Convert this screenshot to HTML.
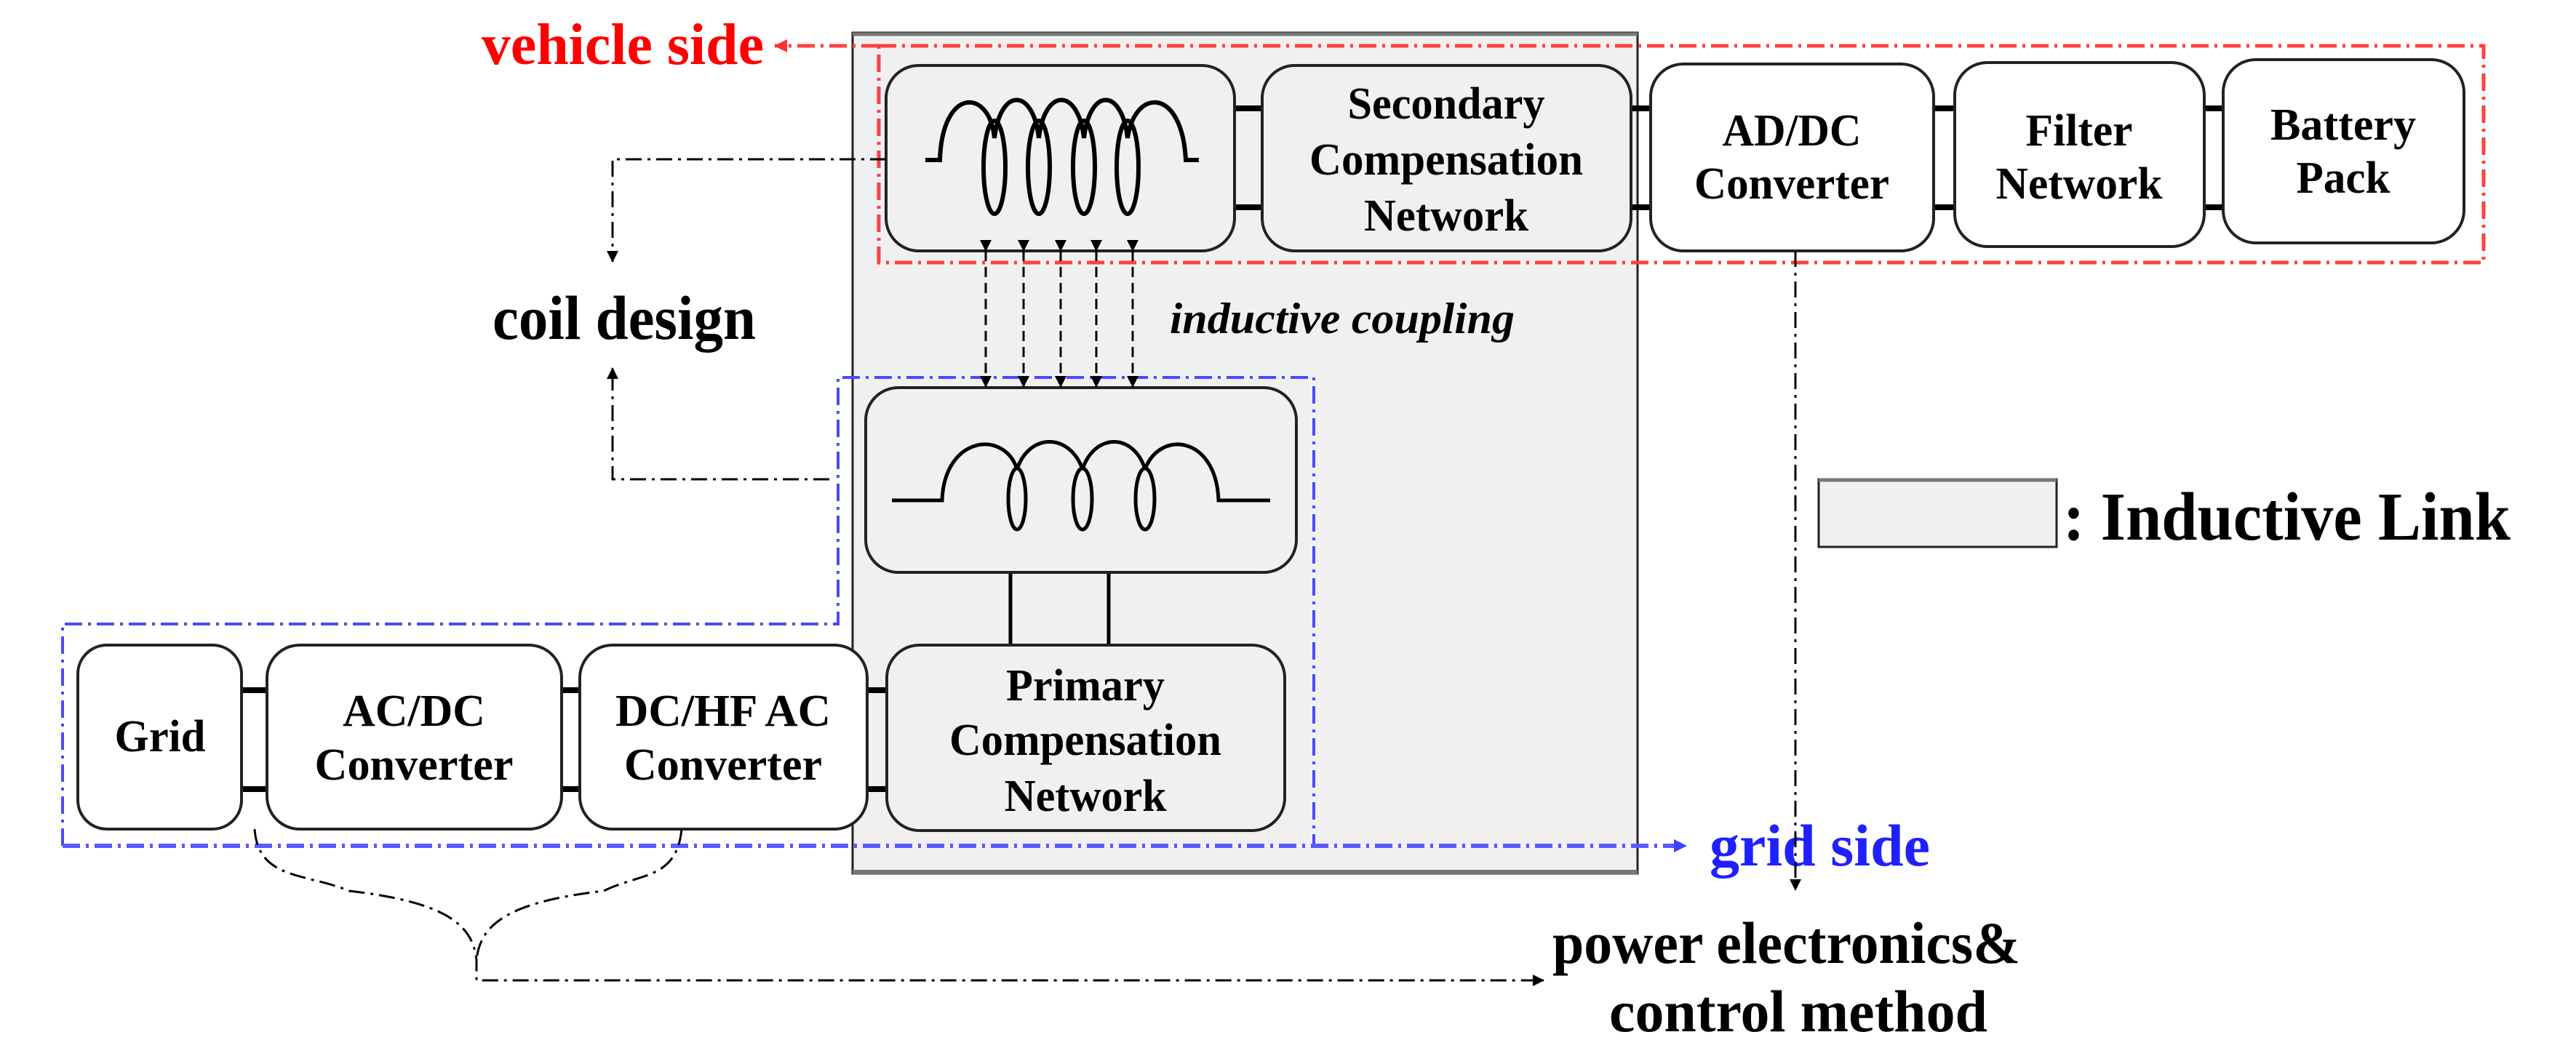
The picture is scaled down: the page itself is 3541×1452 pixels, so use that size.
<!DOCTYPE html>
<html><head><meta charset="utf-8"><style>
html,body{margin:0;padding:0;background:#fff;}
svg{display:block;}
text{font-family:"Liberation Serif",serif;font-weight:bold;}
</style></head><body>
<svg width="3541" height="1452" viewBox="0 0 3541 1452" xmlns="http://www.w3.org/2000/svg">
<defs>
<marker id="ahb" markerWidth="16" markerHeight="16" refX="15" refY="8" orient="auto" markerUnits="userSpaceOnUse" viewBox="0 0 16 16"><path d="M0,0 L16,8 L0,16 z" fill="#000"/></marker>
<marker id="ahblue" markerWidth="18" markerHeight="18" refX="17" refY="9" orient="auto" markerUnits="userSpaceOnUse" viewBox="0 0 18 18"><path d="M0,0 L18,9 L0,18 z" fill="#4040ff"/></marker>
<marker id="ahred" markerWidth="18" markerHeight="18" refX="17" refY="9" orient="auto" markerUnits="userSpaceOnUse" viewBox="0 0 18 18"><path d="M0,0 L18,9 L0,18 z" fill="#ff3030"/></marker>
</defs>

<rect x="1172" y="45" width="1079" height="1156" fill="#f0f0f0" stroke="#222" stroke-width="3"/>
<line x1="1172" y1="1199" x2="2251" y2="1199" stroke="#777" stroke-width="6"/>
<line x1="1172" y1="47" x2="2251" y2="47" stroke="#777" stroke-width="5"/>

<rect x="1208" y="63" width="2206" height="298" fill="none" stroke="#ff4040" stroke-width="5" stroke-dasharray="24 8 4 8"/>
<line x1="1208" y1="63" x2="1065" y2="63" stroke="#ff4040" stroke-width="5" stroke-dasharray="24 8 4 8" marker-end="url(#ahred)"/>
<text x="662" y="88" font-size="80" fill="#ff0000" textLength="388" lengthAdjust="spacingAndGlyphs">vehicle side</text>

<path d="M86,1163 L86,858 L1152,858 L1152,519 L1806,519 L1806,1163" fill="none" stroke="#4a4aff" stroke-width="4" stroke-dasharray="24 8 4 8"/>
<line x1="86" y1="1163" x2="2318" y2="1163" stroke="#5a5aff" stroke-width="6" stroke-dasharray="24 8 4 8" marker-end="url(#ahblue)"/>
<text x="2350" y="1190" font-size="82" fill="#2020ff" textLength="303" lengthAdjust="spacingAndGlyphs">grid side</text>

<g stroke="#000" stroke-width="8">
<line x1="1697" y1="149" x2="1735" y2="149"/><line x1="1697" y1="285" x2="1735" y2="285"/>
<line x1="2242" y1="149" x2="2269" y2="149"/><line x1="2242" y1="285" x2="2269" y2="285"/>
<line x1="2658" y1="149" x2="2687" y2="149"/><line x1="2658" y1="285" x2="2687" y2="285"/>
<line x1="3030" y1="149" x2="3056" y2="149"/><line x1="3030" y1="285" x2="3056" y2="285"/>
<line x1="332" y1="949" x2="367" y2="949"/><line x1="332" y1="1085" x2="367" y2="1085"/>
<line x1="772" y1="949" x2="797" y2="949"/><line x1="772" y1="1085" x2="797" y2="1085"/>
<line x1="1192" y1="949" x2="1219" y2="949"/><line x1="1192" y1="1085" x2="1219" y2="1085"/>
</g>
<g stroke="#000" stroke-width="5">
<line x1="1389" y1="787" x2="1389" y2="887"/><line x1="1524" y1="787" x2="1524" y2="887"/>
</g>

<g stroke="#222" stroke-width="4">
<rect x="1218" y="90" width="479" height="255" rx="45" fill="#f0f0f0"/>
<rect x="1735" y="90" width="507" height="255" rx="45" fill="#f0f0f0"/>
<rect x="2269" y="88" width="389" height="257" rx="45" fill="#fff"/>
<rect x="2687" y="86" width="343" height="253" rx="45" fill="#fff"/>
<rect x="3056" y="82" width="331" height="252" rx="45" fill="#fff"/>
<rect x="1190" y="533" width="592" height="254" rx="45" fill="#f0f0f0"/>
<rect x="1219" y="887" width="547" height="255" rx="45" fill="#f0f0f0"/>
<rect x="107" y="887" width="225" height="253" rx="40" fill="#fff"/>
<rect x="367" y="887" width="405" height="253" rx="45" fill="#fff"/>
<rect x="797" y="887" width="395" height="253" rx="45" fill="#fff"/>
</g>

<g fill="none" stroke="#000" stroke-width="6">
<path d="M1272,220 L1292,220 C1295,120 1360,120 1367,190"/>
<path d="M1367,190 C1375,120 1420,120 1428,190"/>
<path d="M1428,190 C1436,120 1482,120 1490,190"/>
<path d="M1490,190 C1498,120 1542,120 1550,190"/>
<path d="M1550,190 C1560,120 1625,120 1630,220 L1648,220"/>
<ellipse cx="1367" cy="230" rx="15" ry="64"/>
<ellipse cx="1428" cy="230" rx="15" ry="64"/>
<ellipse cx="1490" cy="230" rx="15" ry="64"/>
<ellipse cx="1550" cy="230" rx="15" ry="64"/>
</g>
<g fill="none" stroke="#000" stroke-width="5">
<path d="M1226,688 L1295,688 C1298,600 1380,590 1398,645"/>
<path d="M1398,645 C1415,595 1470,595 1488,645"/>
<path d="M1488,645 C1505,595 1558,595 1574,645"/>
<path d="M1574,645 C1595,590 1672,600 1675,688 L1746,688"/>
<ellipse cx="1398" cy="686" rx="12" ry="42"/>
<ellipse cx="1488" cy="686" rx="13" ry="42"/>
<ellipse cx="1574" cy="686" rx="13" ry="42"/>
</g>

<g stroke="#000" stroke-width="3" stroke-dasharray="14 8" marker-start="url(#ahb)" marker-end="url(#ahb)">
<line x1="1355" y1="345" x2="1355" y2="532"/>
<line x1="1407" y1="345" x2="1407" y2="532"/>
<line x1="1458" y1="345" x2="1458" y2="532"/>
<line x1="1507" y1="345" x2="1507" y2="532"/>
<line x1="1557" y1="345" x2="1557" y2="532"/>
</g>
<text x="1608" y="458" font-size="60" font-style="italic" textLength="474" lengthAdjust="spacingAndGlyphs">inductive coupling</text>

<g font-size="62" text-anchor="middle">
<text x="1988" y="163" textLength="271" lengthAdjust="spacingAndGlyphs">Secondary</text>
<text x="1988" y="240" textLength="376" lengthAdjust="spacingAndGlyphs">Compensation</text>
<text x="1988" y="317" textLength="226" lengthAdjust="spacingAndGlyphs">Network</text>
<text x="2463" y="200" textLength="191" lengthAdjust="spacingAndGlyphs">AD/DC</text>
<text x="2463" y="273" textLength="268" lengthAdjust="spacingAndGlyphs">Converter</text>
<text x="2858" y="200" textLength="147" lengthAdjust="spacingAndGlyphs">Filter</text>
<text x="2858" y="273" textLength="229" lengthAdjust="spacingAndGlyphs">Network</text>
<text x="3221" y="192" textLength="200" lengthAdjust="spacingAndGlyphs">Battery</text>
<text x="3221" y="265" textLength="129" lengthAdjust="spacingAndGlyphs">Pack</text>
<text x="1492" y="963" textLength="218" lengthAdjust="spacingAndGlyphs">Primary</text>
<text x="1492" y="1038" textLength="374" lengthAdjust="spacingAndGlyphs">Compensation</text>
<text x="1492" y="1115" textLength="223" lengthAdjust="spacingAndGlyphs">Network</text>
<text x="220" y="1033" textLength="125" lengthAdjust="spacingAndGlyphs">Grid</text>
<text x="569" y="998" textLength="196" lengthAdjust="spacingAndGlyphs">AC/DC</text>
<text x="569" y="1072" textLength="273" lengthAdjust="spacingAndGlyphs">Converter</text>
<text x="994" y="998" textLength="296" lengthAdjust="spacingAndGlyphs">DC/HF AC</text>
<text x="994" y="1072" textLength="272" lengthAdjust="spacingAndGlyphs">Converter</text>
</g>

<g fill="none" stroke="#000" stroke-width="3" stroke-dasharray="22 8 4 8">
<path d="M1218,219 L842,219 L842,360" marker-end="url(#ahb)"/>
<path d="M1140,659 L842,659 L842,506" marker-end="url(#ahb)"/>
<path d="M2468,345 L2468,1224" marker-end="url(#ahb)"/>
<path d="M350,1140 C355,1210 420,1200 480,1225 C610,1240 650,1270 655,1320 L655,1348 L2122,1348" marker-end="url(#ahb)"/>
<path d="M937,1140 C930,1210 880,1200 830,1225 C700,1240 660,1270 655,1320"/>
</g>
<text x="677" y="466" font-size="86" textLength="362" lengthAdjust="spacingAndGlyphs">coil design</text>
<text x="2134" y="1324" font-size="82" textLength="643" lengthAdjust="spacingAndGlyphs">power electronics&amp;</text>
<text x="2212" y="1418" font-size="82" textLength="520" lengthAdjust="spacingAndGlyphs">control method</text>

<rect x="2500" y="659" width="327" height="93" fill="#f0f0f0" stroke="#222" stroke-width="3"/>
<line x1="2500" y1="660" x2="2827" y2="660" stroke="#777" stroke-width="5"/>
<text x="2836" y="742" font-size="94" textLength="615" lengthAdjust="spacingAndGlyphs">: Inductive Link</text>
</svg>
</body></html>
